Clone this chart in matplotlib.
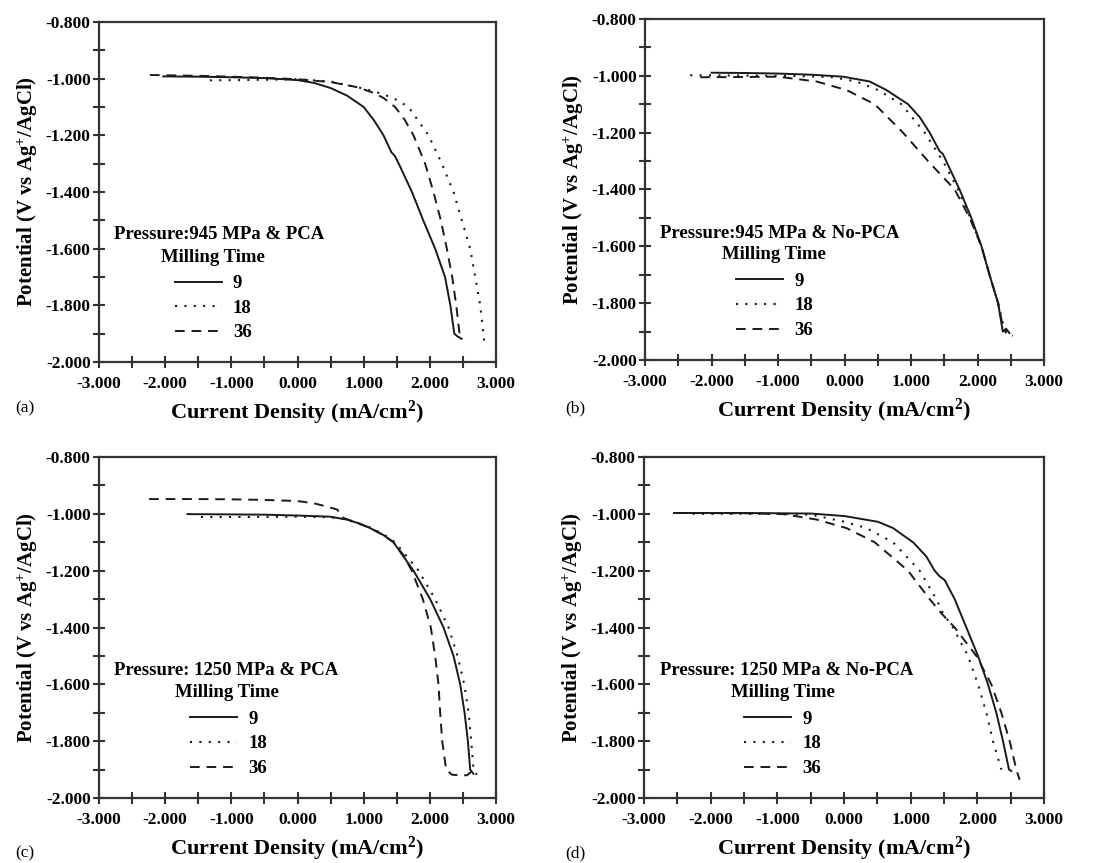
import matplotlib
matplotlib.use("Agg")
import matplotlib.pyplot as plt
from matplotlib.ticker import MultipleLocator, FormatStrFormatter

plt.rcParams['font.family'] = ['Liberation Serif', 'DejaVu Serif']
plt.rcParams['font.weight'] = 'bold'
plt.rcParams['axes.unicode_minus'] = False
plt.rcParams['mathtext.fontset'] = 'custom'
plt.rcParams['mathtext.rm'] = 'Liberation Serif:bold'
plt.rcParams['mathtext.bf'] = 'Liberation Serif:bold'
plt.rcParams['mathtext.it'] = 'Liberation Serif:bold'
plt.rcParams['mathtext.default'] = 'bf'

# ---------------- data ----------------
milling_times = ["9", "18", "36"]
panel_letters = ["(a)", "(b)", "(c)", "(d)"]
panel_titles = ["Pressure:945 MPa & PCA", "Pressure:945 MPa & No-PCA",
                "Pressure: 1250 MPa & PCA", "Pressure: 1250 MPa & No-PCA"]

# panel (a)
a9_x = [-2.03, -1.5, -1.0, -0.5, 0.0, 0.25, 0.5, 0.75, 1.0, 1.15, 1.30, 1.42, 1.47, 1.53, 1.73, 1.90, 2.08, 2.23, 2.31, 2.34, 2.37, 2.42, 2.48]
a9_y = [-0.992, -0.993, -0.995, -0.998, -1.005, -1.015, -1.033, -1.06, -1.10, -1.145, -1.20, -1.26, -1.272, -1.30, -1.40, -1.50, -1.60, -1.70, -1.80, -1.85, -1.90, -1.91, -1.918]
a18_x = [-1.325, -0.5, 0.0, 0.5, 1.0, 1.3, 1.5, 1.677, 1.98, 2.182, 2.358, 2.484, 2.61, 2.686, 2.762, 2.82]
a18_y = [-1.006, -1.004, -1.002, -1.010, -1.035, -1.055, -1.075, -1.10, -1.20, -1.30, -1.40, -1.50, -1.60, -1.70, -1.80, -1.924]
a36_x = [-2.23, -1.5, -1.0, -0.5, 0.0, 0.5, 0.9, 1.15, 1.3, 1.475, 1.62, 1.753, 1.929, 2.055, 2.166, 2.257, 2.338, 2.399, 2.449, 2.48]
a36_y = [-0.987, -0.990, -0.993, -0.997, -1.002, -1.012, -1.030, -1.050, -1.068, -1.10, -1.145, -1.20, -1.30, -1.40, -1.50, -1.60, -1.70, -1.80, -1.90, -1.918]

# panel (b)
b9_x = [-2.0, -1.5, -1.0, -0.5, -0.02, 0.38, 0.63, 0.956, 1.13, 1.281, 1.43, 1.48, 1.53, 1.73, 1.907, 2.06, 2.18, 2.31, 2.38, 2.43, 2.48]
b9_y = [-0.989, -0.990, -0.992, -0.996, -1.003, -1.020, -1.050, -1.10, -1.145, -1.20, -1.265, -1.275, -1.30, -1.40, -1.50, -1.60, -1.70, -1.80, -1.90, -1.89, -1.905]
b18_x = [-2.32, -1.5, -1.0, -0.5, -0.17, 0.18, 0.505, 0.856, 1.206, 1.48, 1.707, 1.892, 2.06, 2.18, 2.31, 2.38, 2.45, 2.53]
b18_y = [-0.998, -0.999, -1.0, -1.002, -1.005, -1.02, -1.05, -1.10, -1.20, -1.30, -1.40, -1.50, -1.60, -1.70, -1.80, -1.87, -1.91, -1.915]
b36_x = [-2.17, -1.5, -1.0, -0.42, 0.03, 0.455, 0.88, 1.256, 1.456, 1.657, 1.882, 2.06, 2.18, 2.31, 2.38, 2.43]
b36_y = [-1.005, -1.004, -1.003, -1.02, -1.05, -1.10, -1.20, -1.30, -1.35, -1.40, -1.50, -1.60, -1.70, -1.80, -1.88, -1.906]

# panel (c)
c9_x = [-1.663, -1.0, -0.5, 0.0, 0.49, 0.744, 0.92, 1.097, 1.30, 1.45, 1.753, 2.005, 2.207, 2.358, 2.459, 2.525, 2.575, 2.61, 2.66]
c9_y = [-1.001, -1.002, -1.003, -1.006, -1.010, -1.02, -1.033, -1.05, -1.075, -1.10, -1.20, -1.30, -1.40, -1.50, -1.60, -1.70, -1.80, -1.90, -1.915]
c18_x = [-1.46, -1.0, -0.5, 0.0, 0.49, 0.744, 1.097, 1.30, 1.475, 1.83, 2.08, 2.283, 2.419, 2.52, 2.586, 2.626, 2.66, 2.71]
c18_y = [-1.011, -1.011, -1.011, -1.010, -1.012, -1.02, -1.048, -1.072, -1.10, -1.20, -1.30, -1.40, -1.50, -1.60, -1.70, -1.80, -1.90, -1.918]
c36_x = [-2.243, -1.5, -1.0, -0.5, 0.0, 0.25, 0.45, 0.6, 0.7, 0.92, 1.097, 1.30, 1.45, 1.60, 1.727, 1.894, 2.015, 2.08, 2.131, 2.156, 2.187, 2.247, 2.333, 2.45, 2.56, 2.636]
c36_y = [-0.948, -0.948, -0.949, -0.951, -0.955, -0.963, -0.975, -0.985, -1.015, -1.033, -1.05, -1.075, -1.10, -1.145, -1.20, -1.30, -1.40, -1.50, -1.60, -1.70, -1.80, -1.90, -1.918, -1.92, -1.92, -1.906]

# panel (d)
d9_x = [-2.55, -1.5, -1.0, -0.49, 0.01, 0.51, 0.735, 1.035, 1.235, 1.36, 1.435, 1.51, 1.66, 1.835, 2.01, 2.16, 2.285, 2.385, 2.475, 2.51]
d9_y = [-0.997, -0.997, -0.998, -0.999, -1.008, -1.028, -1.05, -1.10, -1.15, -1.20, -1.22, -1.233, -1.30, -1.40, -1.50, -1.60, -1.70, -1.80, -1.90, -1.905]
d18_x = [-2.27, -1.5, -1.0, -0.49, 0.01, 0.335, 0.735, 1.135, 1.385, 1.485, 1.635, 1.86, 2.01, 2.135, 2.235, 2.36]
d18_y = [-1.0, -1.0, -1.0, -1.003, -1.028, -1.05, -1.10, -1.20, -1.30, -1.35, -1.40, -1.50, -1.60, -1.70, -1.80, -1.90]
d36_x = [-2.5, -1.5, -0.915, -0.415, 0.035, 0.46, 0.96, 1.285, 1.46, 1.66, 1.985, 2.21, 2.36, 2.485, 2.585, 2.635]
d36_y = [-0.997, -0.998, -1.001, -1.02, -1.05, -1.10, -1.20, -1.30, -1.35, -1.40, -1.50, -1.60, -1.70, -1.80, -1.90, -1.936]

panels = [
    [(a9_x, a9_y), (a18_x, a18_y), (a36_x, a36_y)],
    [(b9_x, b9_y), (b18_x, b18_y), (b36_x, b36_y)],
    [(c9_x, c9_y), (c18_x, c18_y), (c36_x, c36_y)],
    [(d9_x, d9_y), (d18_x, d18_y), (d36_x, d36_y)],
]

# ---------------- layout ----------------
W, H = 1104, 863
fig = plt.figure(figsize=(W / 100, H / 100), dpi=100)

boxes = [  # left, top, right, bottom in pixels
    (99, 22, 496, 362),
    (645, 19, 1044, 360),
    (99, 457, 496, 798),
    (644, 457, 1044, 798),
]
title_pos = [(0.302, 0.374, 0.287, 0.306, 0.191),
             (0.338, 0.372, 0.323, 0.308, 0.228),
             (0.320, 0.375, 0.323, 0.308, 0.229),
             (0.357, 0.375, 0.348, 0.308, 0.250)]
letter_pos = [(15, 408), (565, 408), (15, 853), (565, 853)]

styles = [dict(linestyle='-', lw=1.4),
          dict(linestyle=(0, (1.0, 3.5)), lw=1.5),
          dict(linestyle=(0, (5.0, 3.5)), lw=1.4)]

for i, (l, t, r, b) in enumerate(boxes):
    ax = fig.add_axes([l / W, 1 - b / H, (r - l) / W, (b - t) / H])
    for (xs, ys), lab, st in zip(panels[i], milling_times, styles):
        ax.plot(xs, ys, color='#1a1a1a', label=lab, **st)
    ax.set_xlim(-3.0, 3.0)
    ax.set_ylim(-2.0, -0.8)
    ax.xaxis.set_major_locator(MultipleLocator(1.0))
    ax.xaxis.set_minor_locator(MultipleLocator(0.5))
    ax.yaxis.set_major_locator(MultipleLocator(0.2))
    ax.yaxis.set_minor_locator(MultipleLocator(0.1))
    ax.xaxis.set_major_formatter(FormatStrFormatter('%.3f'))
    ax.yaxis.set_major_formatter(FormatStrFormatter('%.3f'))
    ax.tick_params(which='both', direction='inout', length=8, width=1.5,
                   color='#333333', labelsize=12.5)
    ax.tick_params(axis='x', pad=6)
    ax.tick_params(axis='y', pad=2)
    for sp in ax.spines.values():
        sp.set_linewidth(1.6)
        sp.set_color('#333333')
    for lbl in ax.get_xticklabels() + ax.get_yticklabels():
        lbl.set_fontweight('bold')
    ax.set_xlabel('Current Density (mA/cm$^{2}$)', fontsize=16, fontweight='bold', labelpad=5)
    ax.set_ylabel('Potential (V vs Ag$^{+}$/AgCl)', fontsize=15, fontweight='bold', labelpad=4)

    tx, ty, mx, my, hx = title_pos[i]
    ax.text(tx, ty, panel_titles[i], transform=ax.transAxes, ha='center', va='center',
            fontsize=13.5, fontweight='bold')
    ax.text(mx, my, 'Milling Time', transform=ax.transAxes, ha='center', va='center',
            fontsize=13.5, fontweight='bold')
    leg = ax.legend(loc='upper left', bbox_to_anchor=(hx, 0.256), frameon=False,
                    fontsize=13.5, handlelength=2.5, handletextpad=0.6,
                    labelspacing=0.40, borderpad=0, borderaxespad=0)
    for txt in leg.get_texts():
        txt.set_fontweight('bold')

    lx, ly = letter_pos[i]
    fig.text(lx / W, 1 - ly / H, panel_letters[i], fontsize=12.5, fontweight='normal',
             ha='left', va='center')

fig.savefig('out.png', dpi=100)
